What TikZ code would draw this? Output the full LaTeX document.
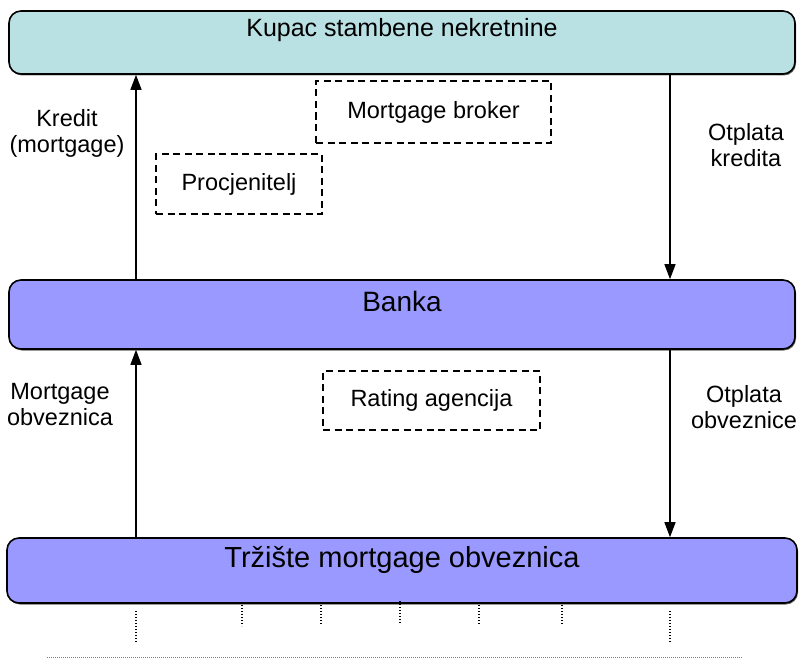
\documentclass[tikz,border=0pt]{standalone}
\usepackage{fontspec}
\setmainfont{Liberation Sans}
\usetikzlibrary{arrows.meta,shadows}

\definecolor{kupacfill}{RGB}{185,224,227}
\definecolor{bankafill}{RGB}{153,153,255}

\begin{document}
\begin{tikzpicture}[x=1pt,y=-1pt,
  bigbox/.style={draw=black, line width=1.6pt, rounded corners=12pt, inner sep=0pt,
    drop shadow={shadow xshift=1pt, shadow yshift=-1.5pt, fill=black, opacity=0.6}},
  actor/.style={draw=black, line width=1.7pt, dash pattern=on 7pt off 4.5pt, inner sep=0pt,
    font=\fontsize{23.5pt}{26pt}\selectfont},
  side/.style={align=center, inner sep=0pt, font=\fontsize{23.5pt}{26pt}\selectfont},
  flow/.style={line width=1.4pt, -{Triangle[width=11pt,length=15pt]}},
  dotline/.style={line width=1.3pt, dash pattern=on 1.2pt off 1.8pt}]

\useasboundingbox (0,0) rectangle (800,658);

%% main boxes
\node[bigbox, fill=kupacfill, minimum width=786pt, minimum height=63pt] (kupac) at (402,42.5) {};
\node[bigbox, fill=bankafill, minimum width=786pt, minimum height=69pt] (banka) at (402,314.5) {};
\node[bigbox, fill=bankafill, minimum width=790pt, minimum height=65pt] (trziste) at (402,570.5) {};

%% box texts
\node[font=\fontsize{25pt}{28pt}\selectfont] (kupaclbl) at ([yshift=12pt]kupac.center) {Kupac stambene nekretnine};
\node[font=\fontsize{28pt}{30pt}\selectfont] (bankalbl) at ([yshift=13.5pt]banka.center) {Banka};
\node[font=\fontsize{29pt}{31pt}\selectfont] (trzistelbl) at ([yshift=10.5pt]trziste.center) {Tržište mortgage obveznica};

%% dashed actors
\node[actor, minimum width=235pt, minimum height=62pt] (broker) at (433.5,112) {Mortgage broker};
\node[actor, minimum width=166pt, minimum height=60pt] (procjena) at (239,184) {Procjenitelj};
\node[actor, minimum width=217pt, minimum height=59pt] (rating) at (431.5,400.5) {Rating agencija};

%% side labels
\node[side] (kredit) at (67,133) {Kredit\\(mortgage)};
\node[side] (otplatak) at (746,145) {Otplata\\kredita};
\node[side] (obveznica) at (60,405) {Mortgage\\obveznica};
\node[side] (otplatao) at (744,407) {Otplata\\obveznice};

%% flows
\coordinate (lx) at (136,0);
\coordinate (rx) at (670,0);
\draw[flow] (banka.north -| lx) -- (kupac.south -| lx);     %% kredit
\draw[flow] (kupac.south -| rx) -- (banka.north -| rx);     %% otplata kredita
\draw[flow] (trziste.north -| lx) -- (banka.south -| lx);   %% obveznica
\draw[flow] (banka.south -| rx) -- (trziste.north -| rx);   %% otplata obveznice

%% dotted lines below market
\foreach \x/\ya/\yb in {136/611/643, 242/605/626, 321/605/625, 400/601/624, 479/605/625, 562/605/625, 670/611/643}
  \draw[dotline] (\x,\ya) -- (\x,\yb);
\draw[gray, line width=0.8pt, dash pattern=on 0.8pt off 1.2pt] (47,657) -- (742,657);

\end{tikzpicture}
\end{document}
